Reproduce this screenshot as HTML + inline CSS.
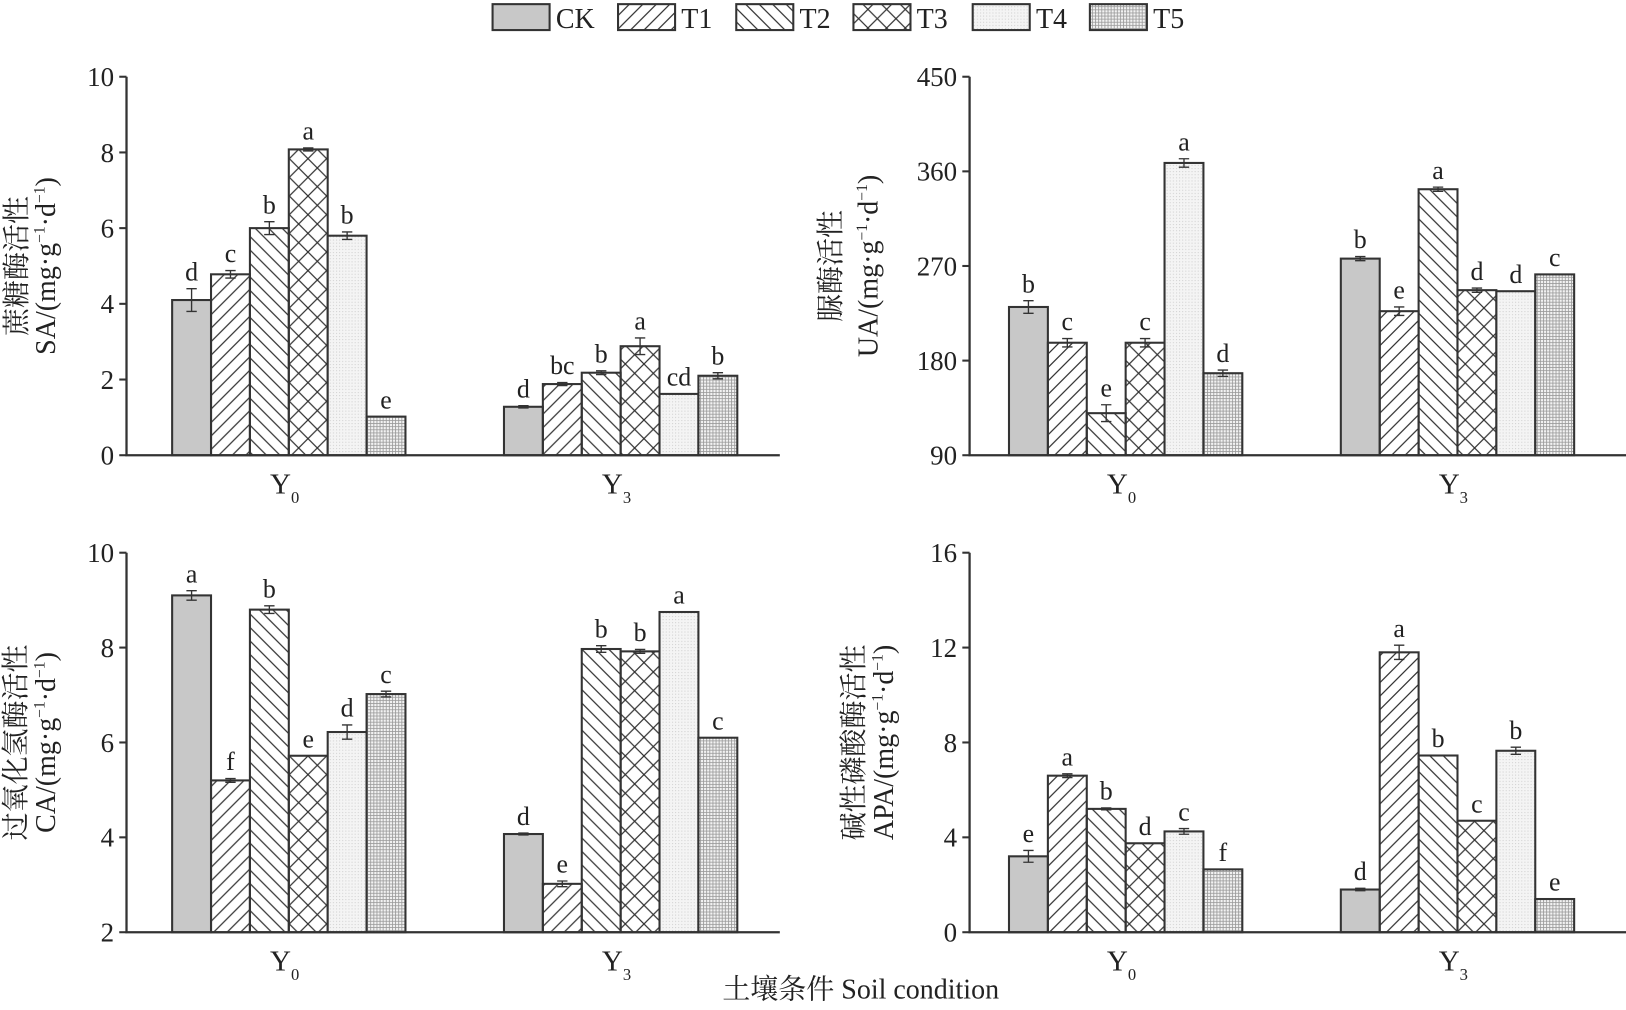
<!DOCTYPE html>
<html><head><meta charset="utf-8">
<style>html,body{margin:0;padding:0;background:#fff;}svg{display:block;}
text{font-family:"Liberation Serif","Noto Serif CJK SC",serif;fill:#222;}</style></head>
<body>
<svg id="s" width="1626" height="1010" viewBox="0 0 1568 974" preserveAspectRatio="none" xmlns="http://www.w3.org/2000/svg">
<defs>
<pattern id="p1" patternUnits="userSpaceOnUse" width="13" height="13"><path d="M-2,15 L15,-2 M-2,2 L2,-2 M11,15 L15,11" stroke="#333" stroke-width="1.2"/></pattern>
<pattern id="p2" patternUnits="userSpaceOnUse" width="13" height="13"><path d="M-2,-2 L15,15 M11,-2 L15,2 M-2,11 L2,15" stroke="#333" stroke-width="1.2"/></pattern>
<pattern id="p3" patternUnits="userSpaceOnUse" width="18" height="18"><path d="M0,0 L18,18 M18,0 L0,18" stroke="#333" stroke-width="1.2"/></pattern>
<pattern id="p4" patternUnits="userSpaceOnUse" width="3" height="3"><rect width="3" height="3" fill="#f4f4f4"/><rect width="1" height="1" fill="#d0d0d0"/></pattern>
<pattern id="p5" patternUnits="userSpaceOnUse" width="3" height="3"><rect width="3" height="3" fill="#f2f2f2"/><path d="M0,0.5H3M0.5,0V3" stroke="#999" stroke-width="0.8"/></pattern>
</defs>
</svg>
<script>
var s=document.getElementById('s'),NS='http://www.w3.org/2000/svg';
function el(t,a,txt){var e=document.createElementNS(NS,t);for(var k in a)e.setAttribute(k,a[k]);if(txt!==undefined)e.innerHTML=txt;s.appendChild(e);return e;}
var fills=['#c8c8c8','url(#p1)','url(#p2)','url(#p3)','url(#p4)','url(#p5)'];
var lg=[[475,'CK'],[596,'T1'],[710,'T2'],[823,'T3'],[938,'T4'],[1051,'T5']];
lg.forEach(function(l,i){el('rect',{x:l[0],y:4,width:55,height:25,fill:fills[i],stroke:'#333','stroke-width':2});el('text',{x:l[0]+61,y:27,'font-size':27},l[1]);});
var sup='<tspan font-size="15" dy="-10">−1</tspan><tspan dy="10">';
var panels=[
{ax:122,x0:166,x1:486,top:74,bot:439,min:0,max:10,ticks:[0,2,4,6,8,10],xend:752,
 l1:'蔗糖酶活性',l2:'SA/(mg·g'+sup+'·d</tspan>'+sup+')</tspan>',lx:[25,53],
 d:[[4.1,.3,'d'],[4.78,.1,'c'],[6.0,.17,'b'],[8.08,.04,'a'],[5.8,.1,'b'],[1.02,0,'e'],[1.28,.03,'d'],[1.88,.04,'bc'],[2.18,.05,'b'],[2.88,.22,'a'],[1.62,0,'cd'],[2.1,.08,'b']]},
{ax:935,x0:973,x1:1293,top:74,bot:439,min:90,max:450,ticks:[90,180,270,360,450],xend:1568,
 l1:'脲酶活性',l2:'UA/(mg·g'+sup+'·d</tspan>'+sup+')</tspan>',lx:[810,846],
 d:[[231,6,'b'],[197,4,'c'],[130,8,'e'],[197,4,'c'],[368,4,'a'],[168,3,'d'],[277,2,'b'],[227,4,'e'],[343,2,'a'],[247,2,'d'],[246,0,'d'],[262,0,'c']]},
{ax:122,x0:166,x1:486,top:533,bot:899,min:2,max:10,ticks:[2,4,6,8,10],xend:752,
 l1:'过氧化氢酶活性',l2:'CA/(mg·g'+sup+'·d</tspan>'+sup+')</tspan>',lx:[24,53],
 d:[[9.1,.1,'a'],[5.2,.04,'f'],[8.8,.08,'b'],[5.72,0,'e'],[6.22,.15,'d'],[7.02,.06,'c'],[4.07,.02,'d'],[3.02,.06,'e'],[7.97,.07,'b'],[7.92,.04,'b'],[8.75,0,'a'],[6.1,0,'c']]},
{ax:935,x0:973,x1:1293,top:533,bot:899,min:0,max:16,ticks:[0,4,8,12,16],xend:1568,
 l1:'碱性磷酸酶活性',l2:'APA/(mg·g'+sup+'·d</tspan>'+sup+')</tspan>',lx:[832,861],
 d:[[3.2,.25,'e'],[6.6,.08,'a'],[5.2,.04,'b'],[3.75,0,'d'],[4.25,.12,'c'],[2.65,0,'f'],[1.8,.05,'d'],[11.8,.3,'a'],[7.45,0,'b'],[4.7,0,'c'],[7.65,.15,'b'],[1.4,0,'e']]}
];
var bw=37.5;
panels.forEach(function(p){
 function Y(v){return p.bot-(v-p.min)/(p.max-p.min)*(p.bot-p.top);}
 p.d.forEach(function(d,i){
  var g=i<6?0:1,k=i%6,x=(g?p.x1:p.x0)+k*bw,y=Y(d[0]);
  el('rect',{x:x,y:y,width:bw,height:p.bot-y,fill:fills[k],stroke:'#333','stroke-width':2});
  var cx=x+bw/2;
  if(d[1]>0){var a=Y(d[0]+d[1]),b=Y(d[0]-d[1]);el('path',{d:'M'+cx+','+a+'V'+b+'M'+(cx-5)+','+a+'H'+(cx+5)+'M'+(cx-5)+','+b+'H'+(cx+5),stroke:'#333','stroke-width':1.3,fill:'none'});}
  el('text',{x:cx,y:Y(d[0]+d[1])-8,'font-size':25,'text-anchor':'middle'},d[2]);
 });
 el('path',{d:'M'+p.ax+','+p.top+'V'+p.bot+'H'+p.xend,stroke:'#333','stroke-width':2.2,fill:'none'});
 p.ticks.forEach(function(t){var y=Y(t);el('path',{d:'M'+(p.ax-7)+','+y+'H'+p.ax,stroke:'#333','stroke-width':2});
  el('text',{x:p.ax-12,y:y+9,'font-size':26,'text-anchor':'end'},t);});
 [[p.x0,'0'],[p.x1,'3']].forEach(function(q){var cx=q[0]+3*bw;
  el('text',{x:cx-4,y:p.bot+37,'font-size':28,'text-anchor':'middle'},'Y<tspan font-size="16" dy="9">'+q[1]+'</tspan>');});
 var cy=(p.top+p.bot)/2;
 el('text',{x:p.lx[0],y:cy,'font-size':27,'text-anchor':'middle',transform:'rotate(-90 '+p.lx[0]+' '+cy+')'},p.l1);
 el('text',{x:p.lx[1],y:cy,'font-size':27,'text-anchor':'middle',transform:'rotate(-90 '+p.lx[1]+' '+cy+')'},p.l2);
});
el('text',{x:830,y:963,'font-size':27,'text-anchor':'middle'},'土壤条件 Soil condition');
</script>
</body></html>
